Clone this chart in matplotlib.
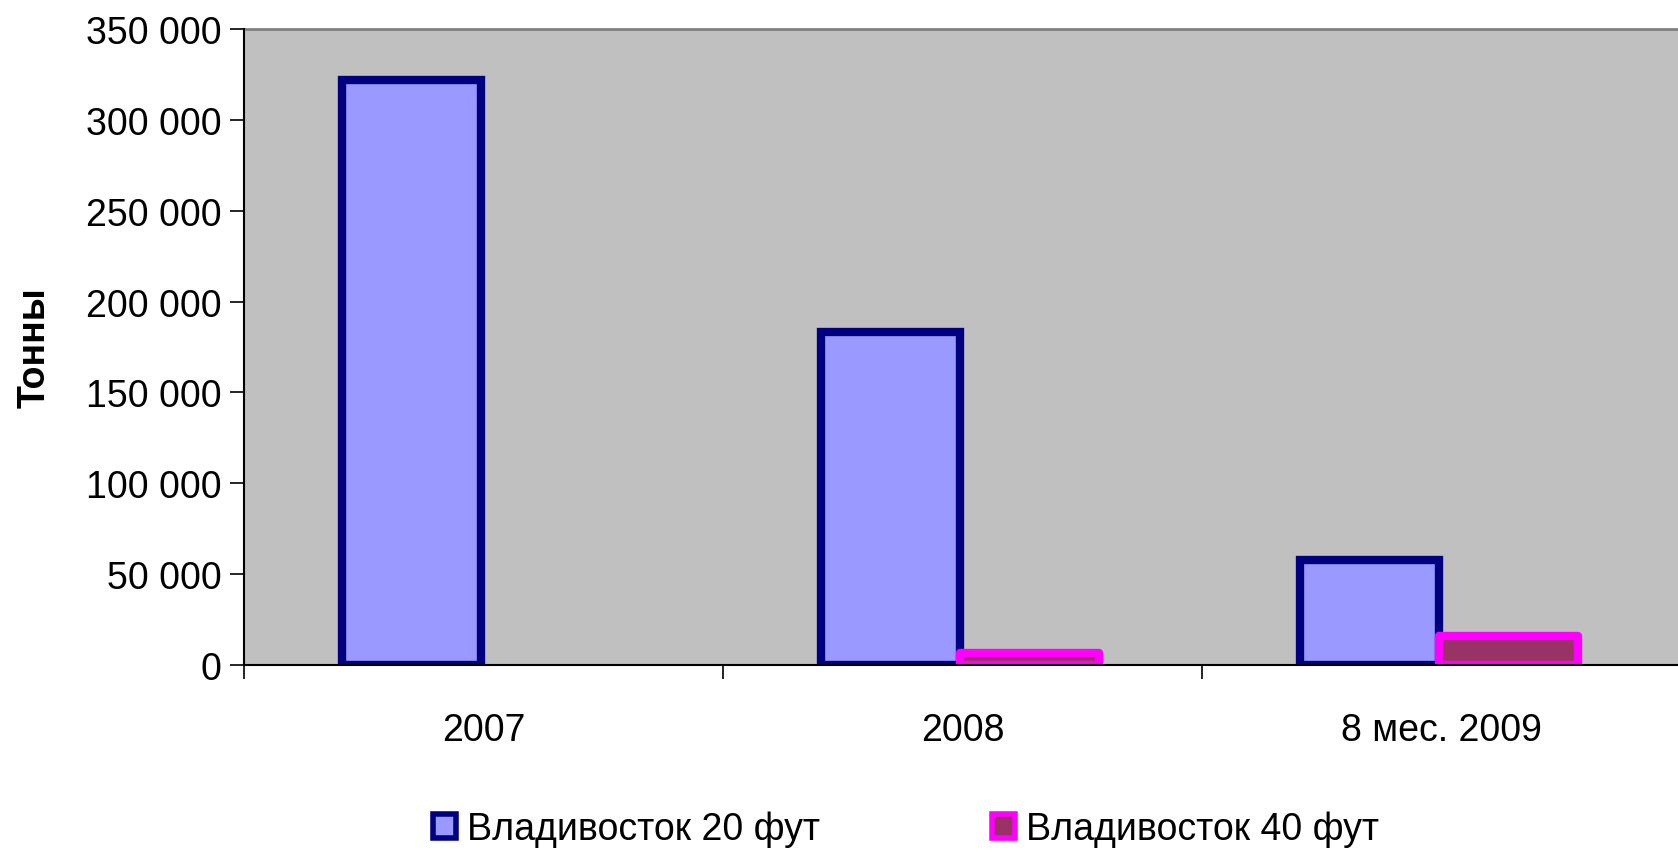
import numpy as np
from matplotlib import pyplot as plt
from matplotlib.patches import Patch

# tonnage by period (no 40 ft traffic in 2007)
categories = ['2007', '2008', '8 мес. 2009']
vlad_20ft = [322000, 183000, 58000]
vlad_40ft = [np.nan, 6500, 16000]
series_names = ['Владивосток 20 фут', 'Владивосток 40 фут']
y_ticks = [0, 50000, 100000, 150000, 200000, 250000, 300000, 350000]

plt.rcParams.update({'font.family': ['Liberation Sans', 'DejaVu Sans'], 'font.size': 27})

fig = plt.figure(figsize=(16.78, 8.53), dpi=100)
ax = fig.add_axes([0.1454, 0.2192, 0.8564, 0.7456])
ax.set_facecolor('#C0C0C0')

ind = np.arange(len(categories))
width = 0.29

ax.bar(ind - width / 2 - 0.005, vlad_20ft, width, color='#9999FF', edgecolor='#000080',
       linewidth=6, joinstyle='miter', zorder=3)
ax.bar(ind + width / 2 - 0.005, vlad_40ft, width, color='#993366', edgecolor='#FF00FF',
       linewidth=6, joinstyle='round', zorder=3)

ax.set_xlim(-0.5, 2.5)
ax.set_ylim(0, 350000)
ax.set_yticks(y_ticks)
ax.set_yticklabels([f'{v:,}'.replace(',', ' ') for v in y_ticks])
ax.set_xticks(ind)
ax.set_xticklabels(categories)
ax.tick_params(axis='x', length=0, pad=34)
ax.set_xticks([-0.5, 0.5, 1.5, 2.5], minor=True)
ax.tick_params(axis='x', which='minor', length=10, width=1.2, direction='out')
ax.tick_params(axis='y', length=10, width=1.2, direction='out', pad=6)

for side in ['left', 'bottom']:
    ax.spines[side].set_color('black')
    ax.spines[side].set_linewidth(1.5)
    ax.spines[side].set_zorder(4)
ax.spines['top'].set_color('#808080')
ax.spines['top'].set_linewidth(2)
ax.spines['right'].set_visible(False)

ax.set_ylabel('Тонны', fontweight='bold', fontsize=27, labelpad=24)

handles = [Patch(facecolor='#9999FF', edgecolor='#000080', linewidth=4),
           Patch(facecolor='#993366', edgecolor='#FF00FF', linewidth=4)]
fig.legend(handles, series_names, loc='center', bbox_to_anchor=(0.54, 0.027), ncol=2,
           frameon=False, handlelength=0.6, handleheight=0.6, handletextpad=0.3,
           columnspacing=4.6, fontsize=27)

fig.savefig('out.png', dpi=100)
